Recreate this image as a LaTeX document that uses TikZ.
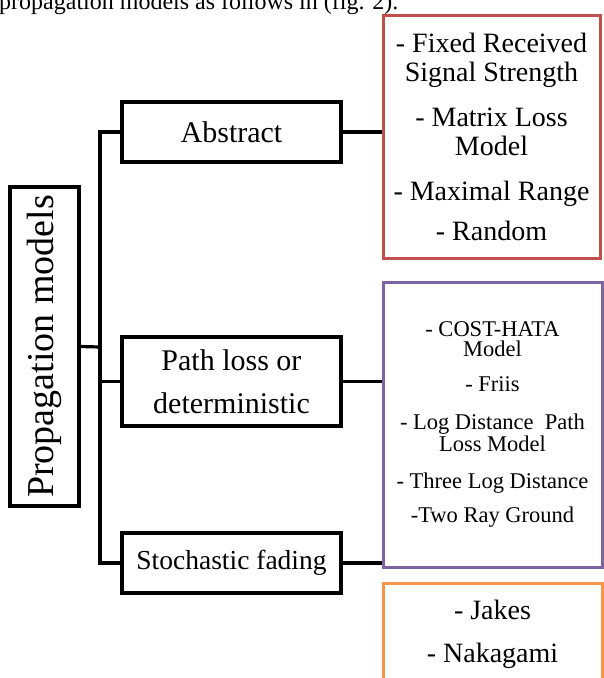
\documentclass[tikz,border=0pt]{standalone}
\usepackage{fontspec}
\setmainfont{Liberation Serif}
\usepackage{graphicx}
\usetikzlibrary{positioning}
\definecolor{absred}{HTML}{C0504D}
\definecolor{plpurple}{HTML}{8064A2}
\definecolor{sforange}{HTML}{F79646}
\tikzset{
  box/.style={draw=black, line width=3.2pt, minimum width=219pt, align=center,
              inner sep=0pt, text=black, fill=white},
  lbox/.style={draw=#1, line width=3pt, fill=white, align=center,
               inner sep=0pt, text=black},
  ln/.style={line width=3.2pt, draw=black},
}

\begin{document}
\begin{tikzpicture}[x=1pt, y=-1pt]
    \useasboundingbox (0,0) rectangle (604,678);
    \node[anchor=base west, inner sep=0pt, font=\fontsize{24}{26}\selectfont] (cap) at (-1,9) {propagation models as follows in (fig. 2).};
    \node[box, minimum width=69pt, minimum height=319pt] (root) at (44.5,346.5) {\rotatebox{90}{\fontsize{38}{40}\selectfont Propagation models}};
    \node[box, minimum height=60pt, font=\fontsize{30}{32}\selectfont] (abs) at (231.5,132) {Abstract};
    \node[box, minimum height=89pt, font=\fontsize{30}{32}\selectfont] (pl) at (231.5,381.5) {Path loss or\\[11pt]deterministic};
    \node[box, minimum height=60pt, font=\fontsize{27.5}{30}\selectfont] (sf) at (231.5,563) {Stochastic fading};
    \coordinate (trunk) at (100,347);
    \draw[ln] (root.east) -- (trunk);
    \draw[ln] (abs.west) -| (trunk) |- (sf.west);
    \draw[ln] (pl.west) -- (pl.west -| trunk);
    \draw[ln] (abs.east) -- ++(45,0);
    \draw[ln] (pl.east) -- ++(45,0);
    \draw[ln] (sf.east) -- ++(45,0);
    \node[lbox=absred, minimum width=217pt, minimum height=243pt, font=\fontsize{28}{29}\selectfont] (absl) at (491.5,136.5)
      {- Fixed Received\\Signal Strength\\[16pt]- Matrix Loss\\Model\\[16pt]- Maximal Range\\[11pt]- Random};
    \node[lbox=plpurple, minimum width=219pt, minimum height=285pt, font=\fontsize{22.5}{20}\selectfont] (pll) at (492.5,424.5)
      {- COST-HATA\\Model\\[15pt]- Friis\\[18pt]- Log Distance \ Path\\Loss Model\\[17pt]- Three Log Distance\\[13pt]-Two Ray Ground};
    \node[lbox=sforange, minimum width=219pt, minimum height=102pt, font=\fontsize{28}{29}\selectfont] (sfl) at (492.5,634)
      {- Jakes\\[14pt]- Nakagami};
  \end{tikzpicture}
\end{document}
